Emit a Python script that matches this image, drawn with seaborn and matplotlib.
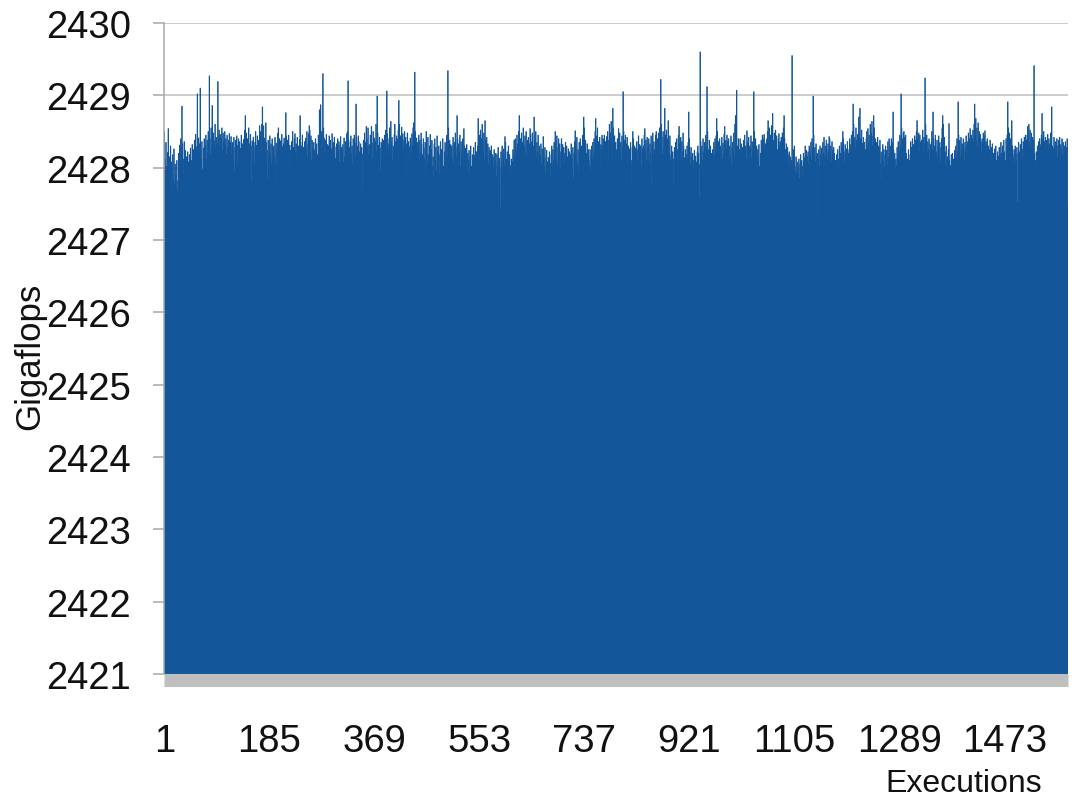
import matplotlib
matplotlib.use("Agg")
import matplotlib.pyplot as plt
import seaborn as sns
import pandas as pd

# Gigaflops measured on each execution run, 24 runs per line
gigaflops = [
    2428.50, 2428.12, 2427.95, 2428.35, 2428.02, 2427.80, 2428.21, 2428.54, 2427.88, 2428.15, 2427.74, 2428.30, 2427.92, 2428.08, 2427.70, 2428.18, 2427.85, 2428.26, 2427.78, 2428.05, 2427.90, 2427.72, 2428.10, 2427.67,
    2427.82, 2428.20, 2427.95, 2428.31, 2428.06, 2428.40, 2428.28, 2428.85, 2428.33, 2428.12, 2427.90, 2428.36, 2428.02, 2428.24, 2427.76, 2428.15, 2427.98, 2428.22, 2428.08, 2427.87, 2428.18, 2427.94, 2428.27, 2428.05,
    2428.10, 2428.32, 2427.92, 2428.25, 2428.04, 2428.38, 2428.15, 2428.46, 2428.00, 2428.29, 2429.02, 2428.20, 2428.41, 2428.07, 2428.33, 2429.10, 2428.24, 2428.12, 2428.36, 2427.98, 2427.81, 2428.27, 2428.40, 2428.18,
    2428.30, 2428.45, 2428.12, 2428.38, 2428.21, 2428.50, 2428.34, 2429.27, 2428.40, 2428.18, 2428.55, 2428.26, 2428.86, 2428.32, 2428.48, 2428.15, 2428.37, 2428.60, 2428.28, 2428.42, 2428.09, 2428.33, 2429.19, 2428.44,
    2428.52, 2428.30, 2428.46, 2428.15, 2428.41, 2428.55, 2428.24, 2428.48, 2428.36, 2428.12, 2428.50, 2428.33, 2428.40, 2428.19, 2428.45, 2428.28, 2428.06, 2428.38, 2428.47, 2428.22, 2428.35, 2428.43, 2428.17, 2428.30,
    2428.35, 2428.10, 2428.42, 2427.96, 2428.28, 2428.38, 2428.15, 2428.44, 2428.05, 2428.31, 2428.40, 2428.20, 2428.36, 2428.02, 2428.27, 2428.45, 2428.13, 2428.33, 2428.08, 2428.39, 2428.24, 2428.52, 2428.72, 2428.30,
    2428.48, 2428.25, 2428.40, 2428.12, 2428.55, 2428.33, 2428.20, 2428.46, 2428.30, 2427.81, 2428.37, 2428.16, 2428.42, 2428.28, 2428.06, 2428.35, 2428.50, 2428.22, 2428.31, 2428.44, 2428.14, 2428.38, 2428.26, 2428.58,
    2428.36, 2428.50, 2428.22, 2428.60, 2428.84, 2428.45, 2428.58, 2428.30, 2428.41, 2428.19, 2428.62, 2428.35, 2428.24, 2427.85, 2428.38, 2428.13, 2428.29, 2428.44, 2428.18, 2428.33, 2428.05, 2428.40, 2428.27, 2428.21,
    2428.30, 2428.15, 2428.42, 2428.08, 2428.34, 2427.76, 2428.22, 2428.48, 2428.55, 2428.26, 2428.40, 2428.12, 2428.37, 2428.18, 2428.46, 2428.29, 2428.06, 2428.33, 2428.41, 2428.20, 2428.35, 2428.76, 2428.44, 2428.25,
    2428.38, 2428.14, 2428.45, 2428.02, 2428.31, 2428.24, 2427.80, 2428.36, 2428.19, 2428.50, 2428.28, 2428.10, 2428.40, 2428.47, 2428.22, 2428.33, 2428.07, 2428.42, 2428.16, 2428.30, 2428.25, 2428.39, 2428.72, 2428.35,
    2428.30, 2428.12, 2428.45, 2428.06, 2428.28, 2427.95, 2428.36, 2428.18, 2428.41, 2428.24, 2428.50, 2428.15, 2428.33, 2428.47, 2428.58, 2428.52, 2428.20, 2428.44, 2428.10, 2428.38, 2428.27, 2428.03, 2428.35, 2428.22,
    2428.25, 2428.40, 2428.08, 2428.33, 2427.61, 2428.18, 2428.45, 2428.22, 2428.80, 2428.36, 2428.87, 2428.12, 2428.50, 2428.28, 2429.30, 2428.55, 2428.41, 2428.20, 2428.38, 2428.15, 2428.46, 2428.04, 2428.32, 2428.27,
    2428.30, 2428.44, 2428.16, 2428.38, 2428.05, 2428.26, 2428.47, 2428.21, 2428.35, 2428.10, 2428.42, 2428.29, 2428.13, 2427.81, 2428.33, 2428.19, 2428.40, 2428.24, 2428.36, 2428.07, 2428.31, 2428.43, 2428.18, 2428.28,
    2428.25, 2428.32, 2428.08, 2428.41, 2428.15, 2427.84, 2428.36, 2428.22, 2428.47, 2428.50, 2429.20, 2428.38, 2428.28, 2428.11, 2428.35, 2428.44, 2428.20, 2428.30, 2428.05, 2428.40, 2428.26, 2428.45, 2428.34, 2428.17,
    2428.88, 2428.42, 2428.30, 2428.15, 2428.44, 2428.36, 2428.22, 2428.10, 2428.33, 2428.05, 2428.28, 2427.70, 2428.19, 2428.38, 2428.25, 2428.48, 2428.12, 2428.35, 2428.57, 2428.40, 2428.29, 2428.55, 2428.18, 2428.32,
    2428.30, 2428.45, 2428.20, 2428.57, 2428.34, 2428.12, 2428.50, 2428.26, 2428.41, 2428.08, 2428.36, 2428.60, 2428.22, 2428.99, 2428.48, 2428.31, 2428.18, 2428.42, 2428.27, 2427.95, 2428.35, 2428.14, 2428.40, 2428.29,
    2428.38, 2428.21, 2428.45, 2428.30, 2428.52, 2428.15, 2429.06, 2428.47, 2428.33, 2428.26, 2428.40, 2428.55, 2428.18, 2428.64, 2428.35, 2428.42, 2428.09, 2428.30, 2428.24, 2428.46, 2428.60, 2428.36, 2428.20, 2428.44,
    2428.40, 2428.28, 2428.52, 2428.93, 2428.60, 2428.35, 2428.44, 2428.19, 2428.56, 2428.31, 2428.47, 2428.25, 2428.38, 2428.50, 2428.15, 2428.42, 2427.80, 2428.33, 2428.48, 2428.22, 2428.36, 2428.29, 2428.12, 2428.41,
    2428.36, 2428.20, 2428.47, 2428.30, 2428.55, 2428.62, 2428.44, 2429.32, 2428.50, 2428.28, 2428.41, 2428.15, 2428.35, 2428.26, 2428.45, 2428.10, 2428.38, 2428.22, 2428.48, 2428.33, 2427.48, 2428.18, 2428.40, 2428.27,
    2428.12, 2428.35, 2427.92, 2428.50, 2428.20, 2428.05, 2428.42, 2428.18, 2427.88, 2428.30, 2428.46, 2428.08, 2428.25, 2428.38, 2428.02, 2428.15, 2427.85, 2428.33, 2428.40, 2428.10, 2428.28, 2427.96, 2428.44, 2428.22,
    2428.05, 2428.30, 2427.90, 2428.18, 2428.36, 2427.98, 2428.25, 2428.12, 2428.40, 2428.02, 2427.48, 2428.22, 2428.35, 2428.08, 2428.28, 2428.45, 2428.15, 2429.34, 2428.55, 2428.20, 2428.38, 2428.10, 2428.32, 2428.26,
    2428.30, 2428.12, 2428.42, 2428.05, 2428.35, 2428.20, 2428.48, 2428.28, 2428.15, 2428.72, 2428.40, 2428.08, 2428.33, 2428.22, 2428.45, 2428.02, 2428.36, 2428.18, 2428.26, 2428.40, 2428.10, 2428.54, 2428.30, 2428.14,
    2428.27, 2428.05, 2428.32, 2427.95, 2428.20, 2428.10, 2428.24, 2427.90, 2428.15, 2428.30, 2428.02, 2427.57, 2428.18, 2428.08, 2428.28, 2427.98, 2428.17, 2428.35, 2428.12, 2428.22, 2428.04, 2428.30, 2428.68, 2428.40,
    2428.45, 2428.30, 2428.52, 2428.18, 2428.40, 2428.60, 2428.35, 2428.22, 2428.48, 2428.12, 2428.65, 2428.38, 2428.25, 2428.42, 2428.15, 2428.33, 2428.05, 2428.28, 2428.20, 2428.24, 2427.98, 2428.30, 2428.10, 2428.18,
    2428.15, 2428.02, 2428.25, 2427.92, 2428.10, 2428.20, 2427.88, 2428.18, 2428.05, 2428.28, 2427.76, 2428.13, 2428.00, 2427.45, 2428.22, 2428.08, 2428.30, 2427.95, 2428.16, 2428.26, 2428.04, 2428.43, 2428.35, 2428.12,
    2428.10, 2428.22, 2427.95, 2428.30, 2428.05, 2428.18, 2428.03, 2427.90, 2428.12, 2427.43, 2428.08, 2428.25, 2428.15, 2428.38, 2428.00, 2428.40, 2428.28, 2428.20, 2428.45, 2428.33, 2428.10, 2428.50, 2428.72, 2428.36,
    2428.40, 2428.25, 2428.48, 2428.12, 2428.35, 2428.55, 2427.82, 2428.30, 2428.44, 2428.20, 2428.50, 2428.15, 2428.38, 2428.28, 2428.42, 2428.05, 2428.33, 2428.54, 2428.46, 2428.22, 2428.36, 2428.48, 2428.18, 2428.30,
    2428.70, 2428.40, 2428.28, 2428.50, 2428.15, 2428.35, 2428.22, 2428.45, 2428.08, 2428.30, 2427.62, 2428.18, 2428.33, 2428.05, 2428.26, 2428.12, 2428.43, 2428.20, 2428.02, 2428.28, 2427.95, 2428.15, 2428.24, 2428.08,
    2428.00, 2428.14, 2427.92, 2428.22, 2428.06, 2427.88, 2428.18, 2428.30, 2428.02, 2428.25, 2428.10, 2428.35, 2428.20, 2428.50, 2428.38, 2428.12, 2428.44, 2428.05, 2428.28, 2428.40, 2428.15, 2428.33, 2427.98, 2428.22,
    2428.40, 2428.25, 2428.32, 2428.10, 2428.28, 2428.05, 2428.20, 2428.35, 2428.02, 2428.30, 2427.95, 2428.15, 2428.26, 2428.08, 2428.22, 2427.90, 2428.18, 2428.33, 2428.12, 2428.00, 2428.28, 2427.86, 2428.20, 2428.36,
    2428.51, 2428.30, 2428.12, 2428.42, 2428.05, 2428.25, 2427.95, 2428.35, 2428.18, 2428.40, 2428.08, 2428.30, 2428.22, 2428.45, 2428.15, 2428.70, 2428.55, 2428.28, 2428.38, 2427.14, 2428.20, 2428.33, 2428.10, 2428.25,
    2428.10, 2428.02, 2428.25, 2427.96, 2428.18, 2428.30, 2428.08, 2428.35, 2428.15, 2428.40, 2428.22, 2428.50, 2428.68, 2428.44, 2428.28, 2428.55, 2428.12, 2428.36, 2428.20, 2428.42, 2428.05, 2428.32, 2428.26, 2428.45,
    2428.30, 2428.40, 2428.18, 2428.45, 2428.28, 2428.36, 2428.12, 2428.43, 2428.25, 2428.50, 2428.15, 2428.38, 2428.60, 2428.22, 2428.48, 2428.64, 2428.33, 2428.10, 2428.82, 2428.55, 2428.30, 2428.44, 2428.20, 2428.35,
    2428.25, 2427.39, 2428.40, 2428.15, 2428.54, 2428.30, 2428.48, 2428.20, 2428.35, 2428.10, 2428.44, 2428.28, 2429.05, 2428.50, 2428.38, 2428.22, 2428.45, 2428.12, 2428.33, 2428.42, 2428.05, 2428.30, 2428.18, 2428.26,
    2428.20, 2428.35, 2428.10, 2427.76, 2428.28, 2428.50, 2428.40, 2428.15, 2428.30, 2428.05, 2428.27, 2428.22, 2428.36, 2428.12, 2428.25, 2428.44, 2428.08, 2428.32, 2428.18, 2428.30, 2428.02, 2428.40, 2428.26, 2428.14,
    2428.30, 2428.45, 2428.54, 2428.22, 2428.38, 2428.10, 2428.42, 2428.28, 2428.15, 2428.40, 2428.05, 2428.33, 2428.20, 2428.44, 2427.76, 2428.30, 2428.48, 2428.18, 2428.36, 2428.25, 2428.12, 2428.45, 2428.50, 2428.28,
    2428.40, 2428.22, 2428.48, 2428.30, 2428.55, 2428.35, 2429.22, 2428.60, 2428.42, 2428.18, 2428.50, 2428.28, 2428.38, 2428.82, 2428.45, 2428.25, 2428.52, 2428.15, 2428.40, 2428.65, 2428.33, 2428.20, 2428.44, 2428.10,
    2428.17, 2428.30, 2428.05, 2428.22, 2427.76, 2428.12, 2428.28, 2428.02, 2428.35, 2428.15, 2428.40, 2428.08, 2428.25, 2428.45, 2428.57, 2428.33, 2428.18, 2428.42, 2428.10, 2428.36, 2428.22, 2428.48, 2428.30, 2428.14,
    2428.09, 2428.25, 2427.76, 2428.18, 2428.30, 2428.12, 2428.35, 2428.77, 2428.40, 2428.22, 2428.05, 2428.28, 2428.15, 2428.02, 2428.20, 2427.95, 2428.10, 2428.24, 2428.00, 2428.16, 2427.90, 2428.08, 2428.22, 2428.30,
    2428.20, 2428.05, 2427.58, 2429.60, 2428.36, 2428.15, 2428.30, 2428.10, 2428.40, 2428.22, 2428.00, 2428.35, 2428.18, 2428.45, 2428.28, 2429.12, 2428.50, 2428.25, 2428.13, 2428.38, 2428.08, 2428.30, 2427.92, 2428.20,
    2427.85, 2428.25, 2428.10, 2428.35, 2428.18, 2428.40, 2428.28, 2428.44, 2428.68, 2428.50, 2428.22, 2428.36, 2428.15, 2428.40, 2428.30, 2428.05, 2428.26, 2428.42, 2428.12, 2428.34, 2428.20, 2428.46, 2428.57, 2428.30,
    2428.38, 2428.25, 2428.45, 2428.36, 2428.20, 2428.40, 2428.12, 2428.30, 2428.17, 2428.44, 2428.05, 2428.28, 2428.35, 2428.22, 2428.48, 2428.15, 2428.60, 2428.72, 2428.50, 2429.07, 2428.30, 2427.48, 2428.40, 2428.18,
    2428.25, 2428.40, 2428.15, 2428.33, 2428.05, 2428.28, 2428.20, 2428.38, 2428.10, 2428.45, 2428.22, 2428.30, 2428.12, 2428.51, 2428.35, 2428.18, 2428.42, 2428.08, 2428.30, 2428.27, 2428.44, 2428.14, 2428.36, 2428.24,
    2428.35, 2429.05, 2428.50, 2428.22, 2428.40, 2428.15, 2428.30, 2428.08, 2428.25, 2428.12, 2428.32, 2428.02, 2427.53, 2428.20, 2428.38, 2428.28, 2428.45, 2428.14, 2428.40, 2428.46, 2428.26, 2428.33, 2428.10, 2428.36,
    2428.40, 2428.50, 2428.65, 2428.35, 2428.55, 2428.28, 2428.45, 2428.30, 2428.58, 2428.42, 2428.75, 2428.38, 2428.20, 2428.48, 2428.33, 2428.52, 2428.15, 2428.44, 2428.25, 2427.85, 2428.40, 2428.47, 2428.30, 2428.36,
    2428.35, 2428.42, 2428.20, 2428.48, 2428.30, 2428.55, 2428.72, 2428.40, 2428.25, 2428.13, 2428.33, 2428.08, 2428.28, 2428.18, 2428.02, 2428.22, 2428.00, 2428.15, 2427.95, 2428.10, 2429.55, 2428.05, 2428.25, 2427.90,
    2428.30, 2428.02, 2427.95, 2428.15, 2427.90, 2428.08, 2428.00, 2427.92, 2428.12, 2427.85, 2428.05, 2428.18, 2427.96, 2428.10, 2427.88, 2428.02, 2428.20, 2428.06, 2428.14, 2428.30, 2427.98, 2428.24, 2428.08, 2428.16,
    2428.22, 2428.05, 2428.30, 2427.67, 2428.18, 2428.35, 2428.10, 2428.40, 2428.26, 2428.99, 2428.45, 2428.15, 2428.28, 2428.08, 2428.33, 2428.17, 2428.20, 2427.34, 2428.12, 2428.25, 2428.02, 2428.30, 2428.18, 2428.06,
    2428.27, 2428.10, 2428.35, 2428.20, 2428.42, 2428.15, 2428.30, 2428.05, 2428.38, 2428.25, 2428.12, 2428.33, 2428.22, 2428.43, 2428.40, 2428.18, 2428.30, 2428.08, 2428.36, 2428.24, 2428.14, 2428.28, 2428.20, 2428.02,
    2428.10, 2427.81, 2428.18, 2428.02, 2428.25, 2427.95, 2428.12, 2428.30, 2428.05, 2428.20, 2428.35, 2428.15, 2428.28, 2428.50, 2428.40, 2428.22, 2428.08, 2428.32, 2428.18, 2428.26, 2428.12, 2428.36, 2427.39, 2428.20,
    2428.25, 2428.40, 2428.15, 2428.32, 2428.45, 2428.20, 2428.50, 2428.88, 2428.60, 2428.35, 2428.42, 2428.28, 2428.55, 2428.38, 2428.22, 2428.46, 2428.30, 2428.70, 2428.48, 2428.82, 2428.40, 2428.25, 2428.52, 2428.34,
    2428.30, 2428.42, 2428.18, 2428.35, 2427.71, 2428.25, 2428.40, 2428.50, 2428.28, 2428.54, 2428.36, 2428.45, 2428.20, 2428.60, 2428.38, 2428.48, 2428.64, 2428.30, 2428.44, 2428.72, 2428.55, 2428.26, 2428.40, 2428.33,
    2428.35, 2428.20, 2428.42, 2428.30, 2428.12, 2428.28, 2428.38, 2428.05, 2428.22, 2427.82, 2428.15, 2428.32, 2428.08, 2428.25, 2428.00, 2428.18, 2428.30, 2428.10, 2428.24, 2428.02, 2428.36, 2428.14, 2428.40, 2428.20,
    2428.30, 2428.18, 2428.40, 2428.10, 2428.35, 2428.77, 2428.25, 2428.05, 2428.20, 2427.98, 2428.12, 2428.03, 2428.28, 2428.15, 2428.36, 2428.08, 2428.22, 2428.45, 2428.30, 2429.02, 2428.55, 2428.40, 2428.26, 2428.48,
    2428.50, 2428.42, 2428.30, 2428.45, 2428.20, 2427.53, 2428.12, 2428.02, 2428.25, 2427.95, 2428.10, 2428.18, 2428.36, 2428.28, 2428.05, 2428.40, 2428.22, 2428.32, 2428.15, 2428.44, 2428.38, 2428.26, 2428.50, 2428.65,
    2428.40, 2428.30, 2428.48, 2428.22, 2428.45, 2428.35, 2428.15, 2428.38, 2428.28, 2428.52, 2428.20, 2428.42, 2428.33, 2429.24, 2428.60, 2428.30, 2428.45, 2428.18, 2428.36, 2428.25, 2428.40, 2428.10, 2428.32, 2428.28,
    2428.35, 2428.50, 2428.25, 2428.77, 2428.40, 2428.30, 2428.18, 2428.45, 2427.43, 2428.22, 2428.38, 2428.12, 2428.30, 2428.44, 2428.20, 2428.35, 2428.08, 2428.28, 2428.40, 2428.55, 2428.72, 2428.60, 2428.26, 2428.42,
    2428.22, 2428.05, 2428.30, 2427.96, 2428.15, 2428.02, 2428.25, 2428.61, 2428.10, 2428.03, 2427.92, 2428.18, 2428.06, 2428.20, 2427.98, 2428.12, 2428.00, 2428.24, 2428.08, 2428.30, 2428.14, 2428.40, 2428.22, 2428.91,
    2428.45, 2428.30, 2428.38, 2428.15, 2428.42, 2428.25, 2428.33, 2428.20, 2428.40, 2428.28, 2428.10, 2428.35, 2428.22, 2428.44, 2428.30, 2428.18, 2428.36, 2428.48, 2428.26, 2428.40, 2428.54, 2428.32, 2428.45, 2428.38,
    2428.40, 2428.52, 2428.35, 2428.60, 2428.88, 2428.45, 2428.68, 2428.38, 2428.55, 2428.30, 2428.62, 2428.42, 2428.50, 2428.28, 2428.46, 2428.36, 2428.22, 2428.40, 2428.33, 2428.48, 2428.25, 2428.44, 2428.51, 2428.30,
    2428.36, 2428.22, 2428.40, 2428.15, 2428.30, 2428.05, 2428.25, 2428.38, 2428.12, 2428.28, 2428.18, 2428.33, 2428.08, 2428.20, 2428.02, 2428.26, 2428.14, 2428.30, 2428.10, 2427.39, 2428.22, 2428.05, 2428.16, 2428.28,
    2428.27, 2428.12, 2428.35, 2428.20, 2428.05, 2428.30, 2428.15, 2428.38, 2428.22, 2427.62, 2428.10, 2428.40, 2428.28, 2428.45, 2428.91, 2428.55, 2428.32, 2428.48, 2428.25, 2428.40, 2428.36, 2428.65, 2428.30, 2428.18,
    2428.13, 2428.25, 2428.05, 2428.30, 2428.18, 2428.10, 2428.28, 2427.52, 2428.20, 2428.35, 2428.08, 2428.22, 2428.32, 2428.15, 2428.40, 2428.26, 2428.12, 2428.36, 2428.20, 2428.42, 2428.30, 2428.45, 2428.24, 2428.38,
    2428.45, 2428.57, 2428.40, 2428.60, 2428.35, 2428.52, 2428.30, 2428.48, 2428.25, 2428.42, 2428.15, 2428.38, 2429.41, 2428.20, 2428.10, 2427.80, 2428.22, 2428.05, 2428.30, 2428.18, 2428.36, 2428.12, 2428.40, 2428.28,
    2428.32, 2428.45, 2428.75, 2428.40, 2428.28, 2428.50, 2428.36, 2428.22, 2428.42, 2428.15, 2428.38, 2428.30, 2428.46, 2428.25, 2428.40, 2428.33, 2428.20, 2428.48, 2428.35, 2428.84, 2428.30, 2427.55, 2428.26, 2428.42,
    2428.28, 2428.36, 2428.20, 2428.34, 2428.40, 2428.15, 2428.30, 2428.38, 2428.22, 2428.42, 2428.10, 2428.32, 2428.25, 2428.40, 2428.18, 2428.35, 2428.05, 2428.30, 2428.24, 2428.36, 2428.12, 2428.28, 2428.40, 2427.48,
]
executions = list(range(1, len(gigaflops) + 1))

x_tick_values = [1, 185, 369, 553, 737, 921, 1105, 1289, 1473]
y_tick_values = [2421, 2422, 2423, 2424, 2425, 2426, 2427, 2428, 2429, 2430]

BAR_BLUE = "#14569a"
GRID_GREY = "#c8c8c8"
FLOOR_GREY = "#bfbfbf"

sns.set_style("white")
plt.rcParams["font.family"] = ["Liberation Sans", "DejaVu Sans"]

df = pd.DataFrame({"Executions": executions, "Gigaflops": gigaflops})

fig = plt.figure(figsize=(10.74, 8.03), dpi=100)
ax = fig.add_axes([164 / 1074, 1 - 675 / 803, (1068 - 164) / 1074, (675 - 24) / 803])

# thin same-colour outline keeps adjacent sub-pixel bars seamless
sns.barplot(data=df, x="Executions", y="Gigaflops", native_scale=True,
            color=BAR_BLUE, width=1.0, edgecolor=BAR_BLUE, linewidth=0.5,
            errorbar=None, saturation=1, snap=False, ax=ax)

ax.set_xlim(0.5, len(gigaflops) + 0.5)
ax.set_ylim(y_tick_values[0], y_tick_values[-1])

ax.set_yticks(y_tick_values)
ax.set_yticklabels([str(v) for v in y_tick_values])
ax.set_xticks(x_tick_values)
ax.set_xticklabels([str(v) for v in x_tick_values])

ax.set_axisbelow(True)
ax.yaxis.grid(True, color=GRID_GREY, linewidth=1.3)
ax.xaxis.grid(False)

ax.tick_params(axis="y", which="major", length=8, width=1.1, color="#a8a8a8",
               pad=16, labelsize=27.5, labelcolor="#111111", left=True)
ax.tick_params(axis="x", which="major", length=0, pad=31,
               labelsize=27.5, labelcolor="#111111")

for side in ("top", "right"):
    ax.spines[side].set_visible(False)
ax.spines["left"].set_color("#a8a8a8")
ax.spines["left"].set_linewidth(1.1)
ax.spines["bottom"].set_color(FLOOR_GREY)
ax.spines["bottom"].set_linewidth(9.4)
ax.spines["bottom"].set_position(("outward", 4.3))
ax.spines["bottom"].set_capstyle("butt")

ax.set_ylabel("Gigaflops", fontsize=25, color="#111111")
ax.yaxis.set_label_coords(-0.1305, 0.49)
ax.set_xlabel("Executions", fontsize=23, color="#111111")
ax.xaxis.set_label_coords(0.885, -0.145)

fig.savefig("out.png", dpi=100)
